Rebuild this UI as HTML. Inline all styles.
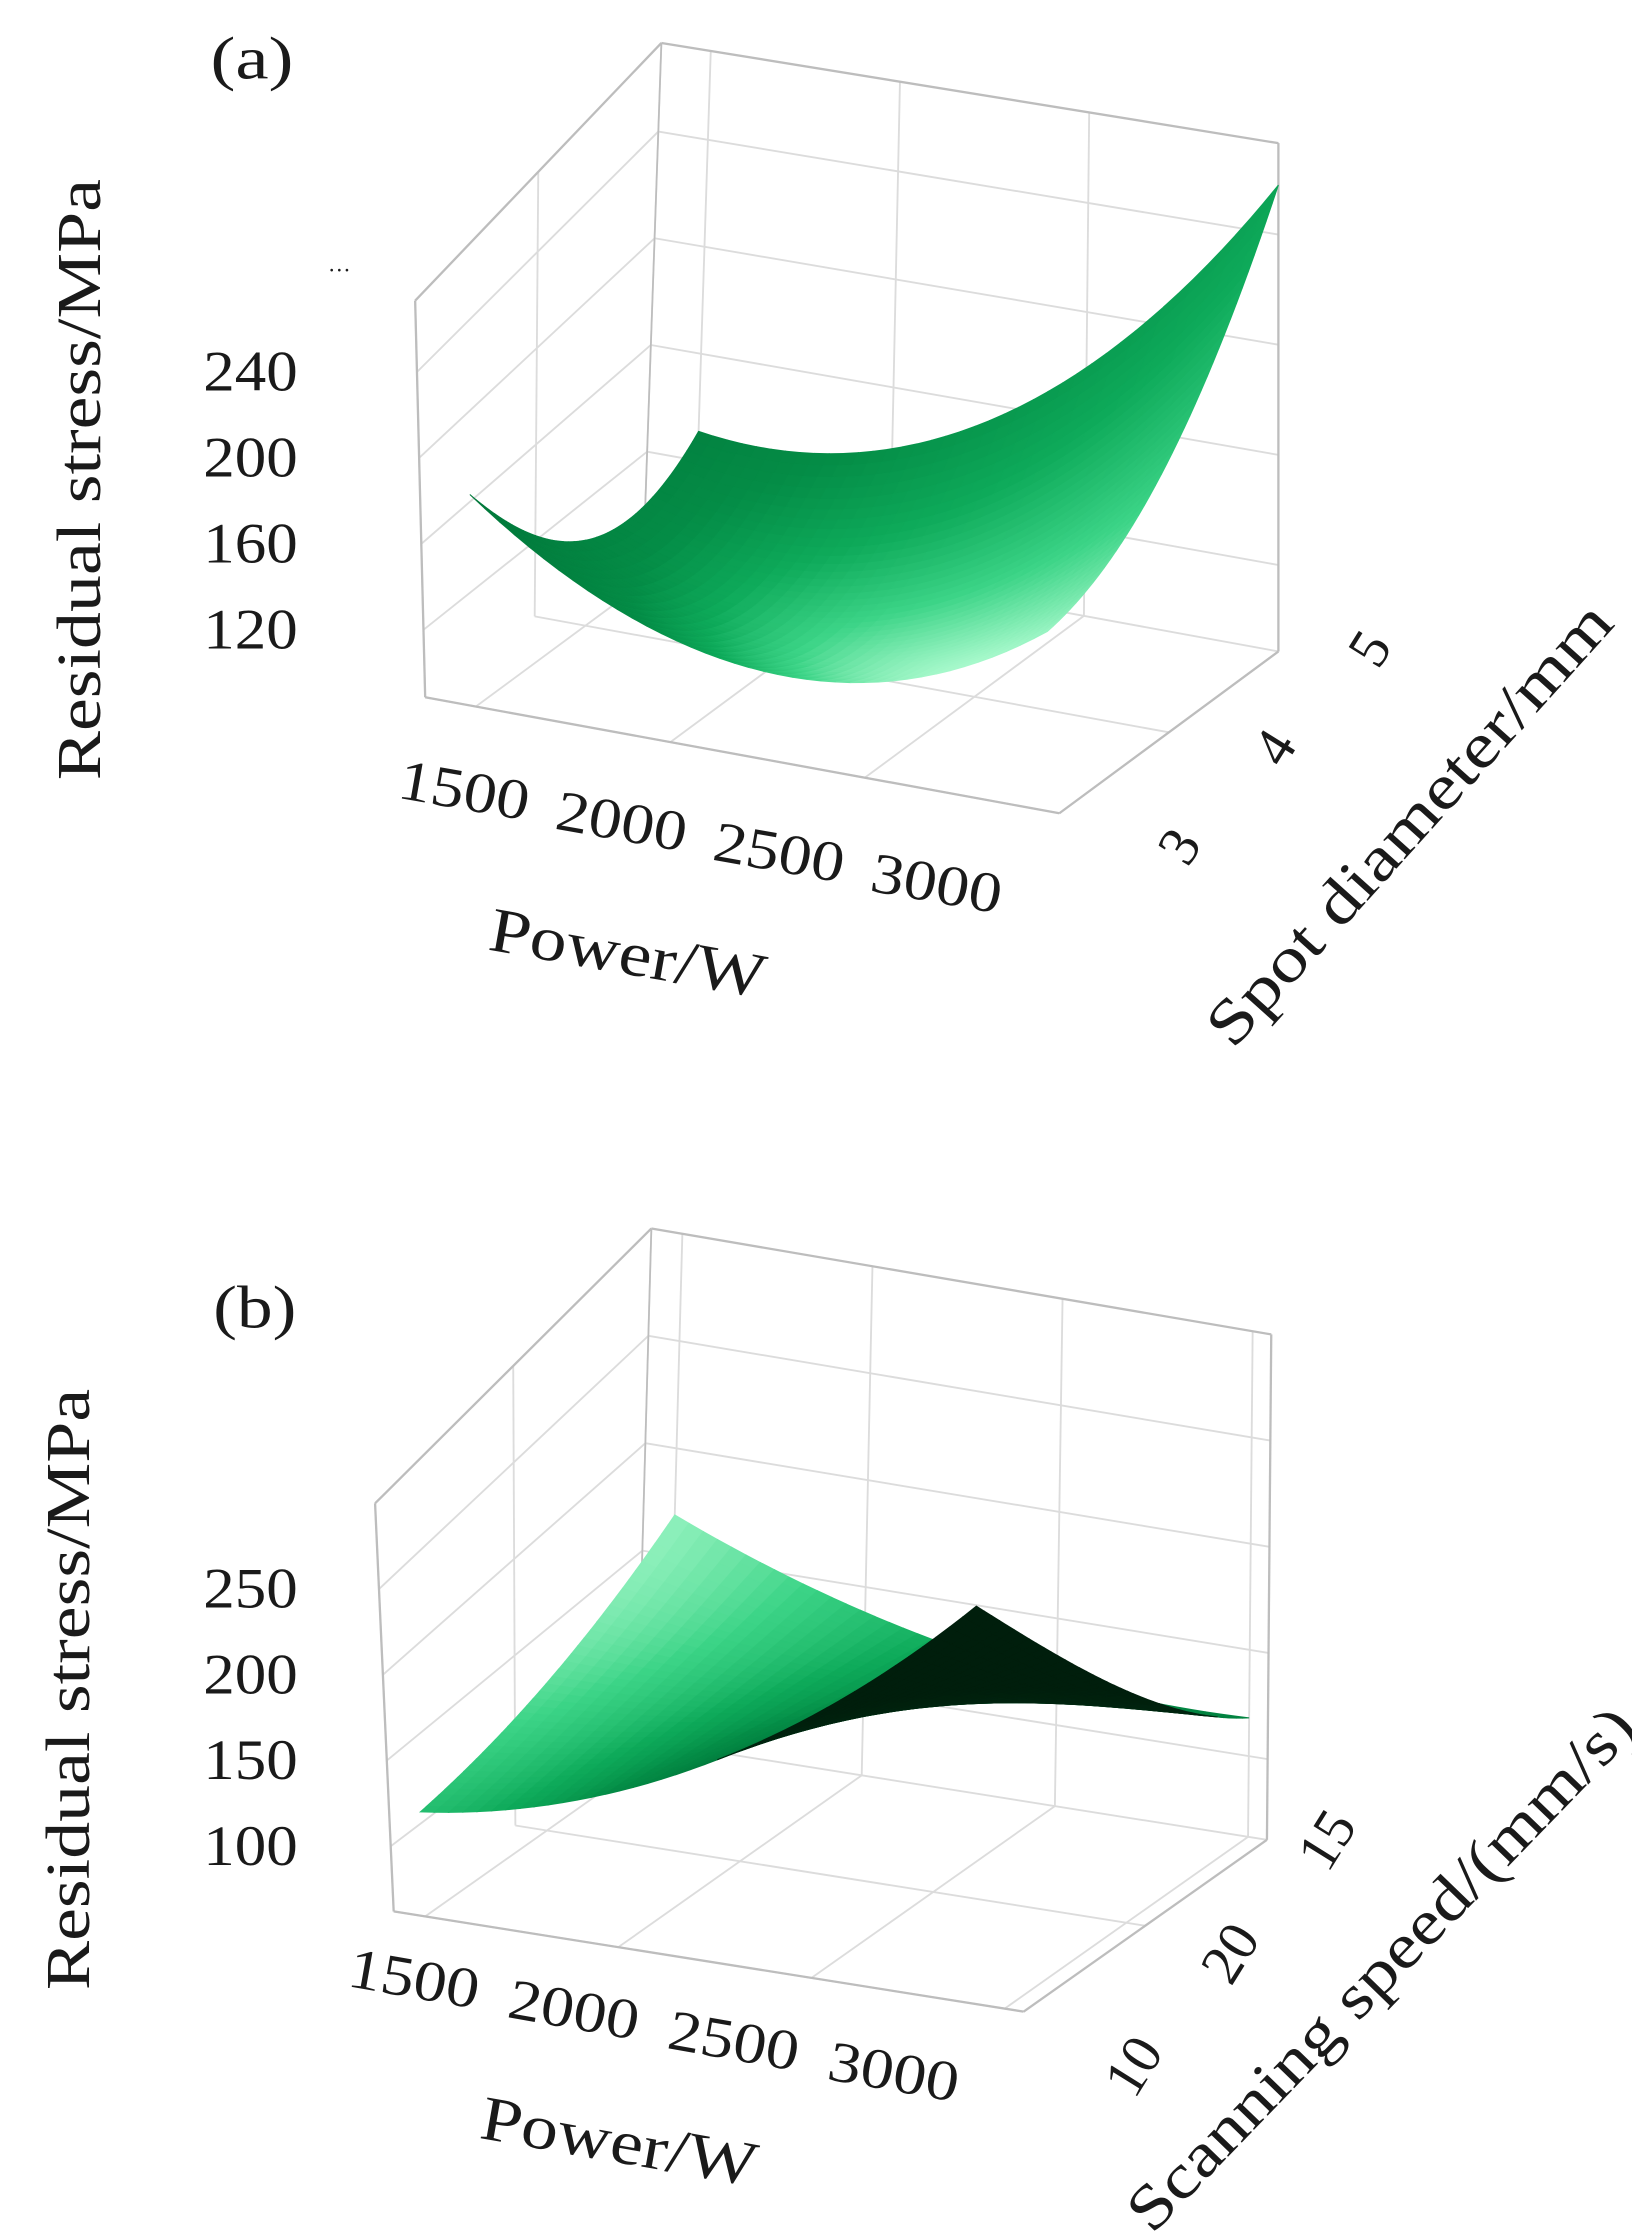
<!DOCTYPE html>
<html><head><meta charset="utf-8"><style>
html,body{margin:0;padding:0;background:#fff;}
svg{display:block;}
text{font-family:"Liberation Serif","Times New Roman",serif;fill:#1a1a1a;}
</style></head><body>
<svg id="fig" width="1632" height="2235" viewBox="0 0 1140 1561" preserveAspectRatio="none" xmlns="http://www.w3.org/2000/svg" font-family="Liberation Serif, serif">
<g id="pa"></g>
<g id="pb"></g>
</svg>
<script>
// ---- Panel (a) data ----
const powerTicks = [1500, 2000, 2500, 3000];
const spotTicks = [3, 4, 5];
const zTicksA = [120, 160, 200, 240];
// residual stress grid (MPa): rows power 1500,2250,3000 ; cols spot 3,4,5
const stressA_p1500 = [187, 124, 131];
const stressA_p2250 = [129, 112, 154];
const stressA_p3000 = [170, 192, 258];
// ---- Panel (b) data ----
const scanTicks = ["10", "20", "15"];
const zTicksB = [100, 150, 200, 250];
// rows power 1500,2250,3000 ; cols scanning speed front->back
const stressB_p1500 = [123, 138, 169];
const stressB_p2250 = [178, 150, 128];
const stressB_p3000 = [300, 185, 118];

const NS = "http://www.w3.org/2000/svg";
function mk(parent, tag, attrs) {
  const e = document.createElementNS(NS, tag);
  for (const k in attrs) e.setAttribute(k, attrs[k]);
  parent.appendChild(e);
  return e;
}
function lerp(a, b, t) { return [a[0] + (b[0] - a[0]) * t, a[1] + (b[1] - a[1]) * t]; }
function proj(box, u, v, w) {
  const bf = lerp(box.b.FL, box.b.FR, u), bb = lerp(box.b.BL, box.b.BR, u);
  const tf = lerp(box.t.FL, box.t.FR, u), tb = lerp(box.t.BL, box.t.BR, u);
  const bot = lerp(bf, bb, v), top = lerp(tf, tb, v);
  return lerp(bot, top, w);
}
function lag(vals, s) {
  const l0 = 2 * (s - 0.5) * (s - 1), l1 = -4 * s * (s - 1), l2 = 2 * s * (s - 0.5);
  return vals[0] * l0 + vals[1] * l1 + vals[2] * l2;
}
function surfZ(rows, s, t) {
  return lag([lag(rows[0], t), lag(rows[1], t), lag(rows[2], t)], s);
}
function colorRamp(stops, t) {
  t = Math.max(0, Math.min(1, t));
  for (let i = 0; i < stops.length - 1; i++) {
    if (t <= stops[i + 1][0]) {
      const f = (t - stops[i][0]) / (stops[i + 1][0] - stops[i][0]);
      const c = stops[i][1].map((c0, k) => Math.round(c0 + (stops[i + 1][1][k] - c0) * f));
      return "rgb(" + c.join(",") + ")";
    }
  }
  return "rgb(" + stops[stops.length - 1][1].join(",") + ")";
}
const lightStops = [[0, [0, 105, 50]], [0.45, [4, 140, 70]], [0.62, [14, 170, 90]], [0.8, [60, 212, 135]], [1, [185, 255, 215]]];
const darkStops = [[0, [0, 30, 12]], [0.6, [0, 50, 22]], [1, [20, 80, 45]]];

function drawPanel(g, cfg) {
  const box = cfg.box;
  const gridCol = "#dcdcdc", edgeCol = "#bdbdbd";
  const wz = z => (z - cfg.zmin) / (cfg.zmax - cfg.zmin);
  const uP = p => cfg.umin + (p - 1500) / 1500 * (cfg.umax - cfg.umin);
  function line(a, b, col, w, name) {
    const l = mk(g, "line", {x1: a[0], y1: a[1], x2: b[0], y2: b[1], stroke: col, "stroke-width": w});
    
    
  }
  cfg.zTicks.forEach(z => {
    const w = wz(z);
    line(proj(box, 0, 1, w), proj(box, 1, 1, w), gridCol, 1.3, "back-wall-gridline");
    line(proj(box, 0, 0, w), proj(box, 0, 1, w), gridCol, 1.3, "side-wall-gridline");
  });
  powerTicks.forEach(p => {
    const u = uP(p);
    line(proj(box, u, 1, 0), proj(box, u, 1, 1), gridCol, 1.3, "back-wall-gridline");
    line(proj(box, u, 0, 0), proj(box, u, 1, 0), gridCol, 1.3, "floor-gridline");
  });
  [0, 0.5, 1].forEach(v => {
    line(proj(box, 0, v, 0), proj(box, 1, v, 0), gridCol, 1.3, "floor-gridline");
    line(proj(box, 0, v, 0), proj(box, 0, v, 1), gridCol, 1.3, "side-wall-gridline");
  });
  line(proj(box, 0, 0, 0), proj(box, 0, 0, 1), edgeCol, 1.6, "box-edge");
  line(proj(box, 0, 0, 1), proj(box, 0, 1, 1), edgeCol, 1.6, "box-edge");
  line(proj(box, 0, 1, 1), proj(box, 1, 1, 1), edgeCol, 1.6, "box-edge");
  line(proj(box, 1, 1, 1), proj(box, 1, 1, 0), edgeCol, 1.6, "box-edge");
  line(proj(box, 0, 0, 0), proj(box, 1, 0, 0), edgeCol, 1.6, "box-edge");
  line(proj(box, 1, 0, 0), proj(box, 1, 1, 0), edgeCol, 1.6, "box-edge");
  line(proj(box, 0, 1, 0), proj(box, 0, 1, 1), edgeCol, 1.2, "box-edge");

  const N = 40, rows = cfg.rows, L = cfg.light;
  const ln = Math.hypot(L[0], L[1], L[2]);
  const quads = [];
  const uS = s => cfg.umin + s * (cfg.umax - cfg.umin);
  const W = (s, t) => [uS(s), t * 0.7, wz(surfZ(rows, s, t)) * 0.9];
  for (let i = 0; i < N; i++) for (let j = 0; j < N; j++) {
    const s0 = i / N, s1 = (i + 1) / N, t0 = j / N, t1 = (j + 1) / N;
    const pts = [[s0, t0], [s1, t0], [s1, t1], [s0, t1]].map(([s, t]) => proj(box, uS(s), t, wz(surfZ(rows, s, t))));
    const du = [pts[1][0] - pts[0][0] + pts[2][0] - pts[3][0], pts[1][1] - pts[0][1] + pts[2][1] - pts[3][1]];
    const dv = [pts[3][0] - pts[0][0] + pts[2][0] - pts[1][0], pts[3][1] - pts[0][1] + pts[2][1] - pts[1][1]];
    const front = (du[0] * dv[1] - du[1] * dv[0]) < 0;
    const sc = (s0 + s1) / 2, tc = (t0 + t1) / 2, e = 0.01;
    const A = W(sc + e, tc), B = W(sc - e, tc), C = W(sc, tc + e), D = W(sc, tc - e);
    const a = [A[0] - B[0], A[1] - B[1], A[2] - B[2]], b = [C[0] - D[0], C[1] - D[1], C[2] - D[2]];
    let n = [a[1] * b[2] - a[2] * b[1], a[2] * b[0] - a[0] * b[2], a[0] * b[1] - a[1] * b[0]];
    const nn = Math.hypot(n[0], n[1], n[2]); n = n.map(x => x / nn);
    if (n[2] < 0) n = n.map(x => -x);
    const lam = (n[0] * L[0] + n[1] * L[1] + n[2] * L[2]) / ln;
    const col = front ? colorRamp(lightStops, lam) : colorRamp(darkStops, lam);
    const depth = (front ? 0 : -10) + (tc * cfg.dv - sc * cfg.du);
    quads.push({pts, col, depth});
  }
  quads.sort((p, q) => q.depth - p.depth);
  const sg = mk(g, "g", {});
  
  
  quads.forEach(q => {
    const p = mk(sg, "polygon", {points: q.pts.map(x => x[0].toFixed(2) + "," + x[1].toFixed(2)).join(" "), fill: q.col, stroke: q.col, "stroke-width": 0.7});
    
    
  });

  cfg.zTicks.forEach(z => {
    const y = proj(box, 0, 0, wz(z))[1];
    const t = mk(g, "text", {x: 175, y: y + 13, "text-anchor": "middle", "font-size": 40, "font-family": "Liberation Serif, serif", textLength: 66, lengthAdjust: "spacingAndGlyphs"});
    t.textContent = z;
    
    
  });
  powerTicks.forEach((p, i) => {
    const pos = lerp(cfg.pFirst, cfg.pLast, (p - powerTicks[0]) / (powerTicks[powerTicks.length - 1] - powerTicks[0]));
    const t = mk(g, "text", {x: 0, y: 0, "text-anchor": "middle", "font-size": 40, "font-family": "Liberation Serif, serif", textLength: 92, lengthAdjust: "spacingAndGlyphs", transform: `translate(${pos[0]},${pos[1]}) rotate(10)`});
    t.textContent = p;
    
    
  });
  cfg.yTicks.forEach((v, i) => {
    const pos = lerp(cfg.yFirst, cfg.yLast, i / (cfg.yTicks.length - 1));
    const t = mk(g, "text", {x: 0, y: 0, "text-anchor": "middle", "font-size": 40, "font-family": "Liberation Serif, serif", transform: `translate(${pos[0]},${pos[1]}) rotate(-58)`});
    t.textContent = v;
    
    
  });
}

const boxA = {b: {FL: [297, 487], FR: [740, 568], BL: [450, 374], BR: [893, 455]}, t: {FL: [290, 210], FR: [721, 280], BL: [462, 30], BR: [893, 100]}};
const boxB = {b: {FL: [275, 1335], FR: [715, 1405], BL: [445, 1215], BR: [885, 1285]}, t: {FL: [262, 1050], FR: [695, 1124], BL: [455, 858], BR: [888, 932]}};

drawPanel(document.getElementById("pa"), {
  box: boxA, zmin: 88.6, zmax: 273.2, umin: 0.08, umax: 1, zTicks: zTicksA,
  rows: [stressA_p1500, stressA_p2250, stressA_p3000],
  light: [-0.6, 0.3, 0.65], du: 0.7, dv: 1,
  pFirst: [322, 565], pLast: [652, 630], yTicks: spotTicks, yFirst: [835, 598], yLast: [968, 460]
});
drawPanel(document.getElementById("pb"), {
  box: boxB, zmin: 62, zmax: 300, umin: 0.05, umax: 0.97, zTicks: zTicksB,
  rows: [stressB_p1500, stressB_p2250, stressB_p3000],
  light: [0.25, -0.7, 0.75], du: 0.7, dv: 1,
  pFirst: [287, 1395], pLast: [622, 1460], yTicks: scanTicks, yFirst: [803, 1450], yLast: [938, 1292]
});

const fig = document.getElementById("fig");
function addText(txt, x, y, size, rot, len, name) {
  const t = document.createElementNS(NS, "text");
  t.setAttribute("text-anchor", "middle");
  t.setAttribute("font-size", size);
  t.setAttribute("font-family", "Liberation Serif, serif");
  if (len) { t.setAttribute("textLength", len); t.setAttribute("lengthAdjust", "spacingAndGlyphs"); }
  t.setAttribute("transform", `translate(${x},${y}) rotate(${rot})`);
  t.textContent = txt;
  
  
  fig.appendChild(t);
}
addText("(a)", 176, 55, 42, 0, 58, "panel-a-label");
addText("···", 237, 194, 16, 0, 0, "axis-ellipsis");
addText("Residual stress/MPa", 70, 335, 44, -90, 420, "panel-a-z-axis-title");
addText("Power/W", 436, 680, 44, 10, 195, "panel-a-x-axis-title");
addText("Spot diameter/mm", 995, 585, 44, -48, 400, "panel-a-y-axis-title");
addText("(b)", 178, 927, 42, 0, 58, "panel-b-label");
addText("Residual stress/MPa", 62, 1180, 44, -90, 420, "panel-b-z-axis-title");
addText("Power/W", 430, 1510, 44, 10, 195, "panel-b-x-axis-title");
addText("Scanning speed/(mm/s)", 975, 1385, 44, -46, 490, "panel-b-y-axis-title");
</script>
</body></html>
